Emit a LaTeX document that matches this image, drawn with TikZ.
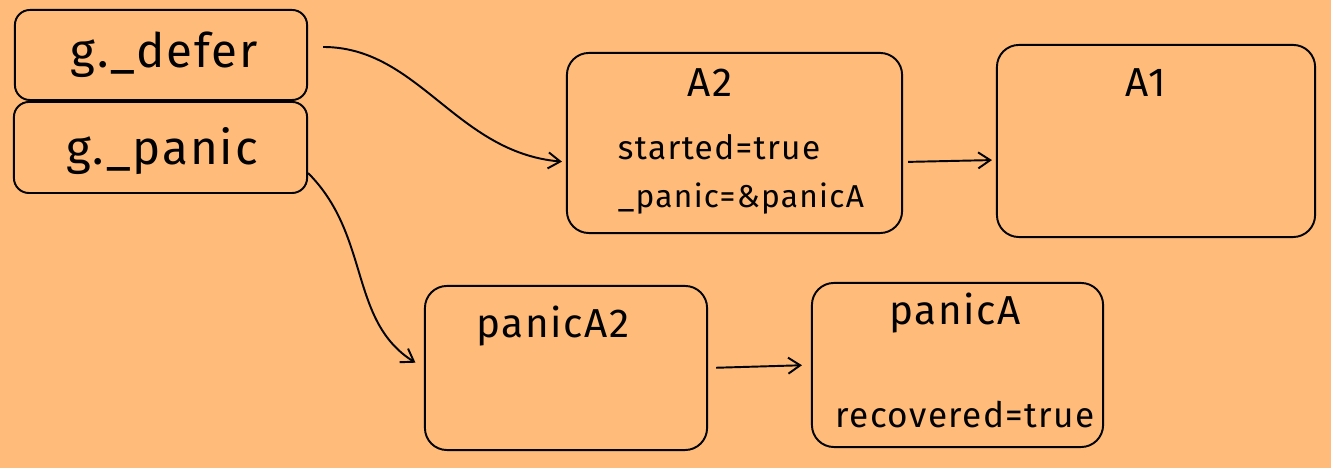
\documentclass[tikz,border=0pt]{standalone}
\usepackage{fontspec}
\setmainfont{Fira Sans}[LetterSpace=4]
\usetikzlibrary{arrows.meta,positioning}
\definecolor{bgorange}{RGB}{255,187,122}

\begin{document}
\begin{tikzpicture}[x=0.01cm,y=-0.01cm,line width=0.55pt,
  box/.style={draw,rounded corners=0.22cm,inner sep=0pt},
  link/.style={-{Straight Barb[length=1.2mm,width=1.6mm]}},
  big/.style={font=\fontsize{13.5}{16}\selectfont,anchor=base,inner sep=0pt},
  title/.style={font=\fontsize{11.5}{14}\selectfont,anchor=base,inner sep=0pt},
  field/.style={font=\fontsize{9.5}{11}\selectfont,anchor=base west,inner sep=0pt}]
  \fill[bgorange] (0,0) rectangle (1331,468);
  \useasboundingbox (0,0) rectangle (1331,468);
  % g fields
  \node[box,rounded corners=0.15cm,minimum width=2.92cm,minimum height=0.90cm](defer) at (161,55){};
  \node[box,rounded corners=0.15cm,minimum width=2.93cm,minimum height=0.91cm](panic) at (160.5,147.5){};
  \node[big](tdefer) at (164,68){g.\_defer};
  \node[big](tpanic) at (162,165){g.\_panic};
  % defer chain
  \node[box,minimum width=3.35cm,minimum height=1.80cm](A2) at (734.5,143){};
  \node[box,minimum width=3.18cm,minimum height=1.92cm](A1) at (1156,141){};
  \node[title](tA2) at (710,97){A2};
  \node[field](started) at (617,160){started=true};
  \node[field,font=\fontsize{9}{11}\selectfont](panicptr) at (617,208){\_panic=\&panicA};
  \node[title](tA1) at (1146,97){A1};
  % panic chain
  \node[box,minimum width=2.82cm,minimum height=1.64cm](panicA2) at (566,368){};
  \node[box,minimum width=2.91cm,minimum height=1.64cm](panicA) at (957.5,365){};
  \node[title](tpanicA2) at (553,338){panicA2};
  \node[title](tpanicA) at (955,325){panicA};
  \node[field,font=\fontsize{10}{12}\selectfont](recovered) at (835,428){recovered=true};
  % links
  \draw[link,shorten <=0.15cm,shorten >=0.04cm]([yshift=0.08cm]defer.east) to[out=0,in=175] ([yshift=-0.19cm]A2.west);
  \draw[link,shorten <=0.05cm,shorten >=0.04cm]([yshift=-0.19cm]A2.east) -- ([yshift=-0.19cm]A1.west);
  \draw[link,shorten >=0.1cm]([yshift=-0.255cm]panic.east) to[out=-45,in=148] (panicA2.west);
  \draw[link,shorten <=0.08cm,shorten >=0.09cm](panicA2.east) -- (panicA.west);
\end{tikzpicture}
\end{document}
